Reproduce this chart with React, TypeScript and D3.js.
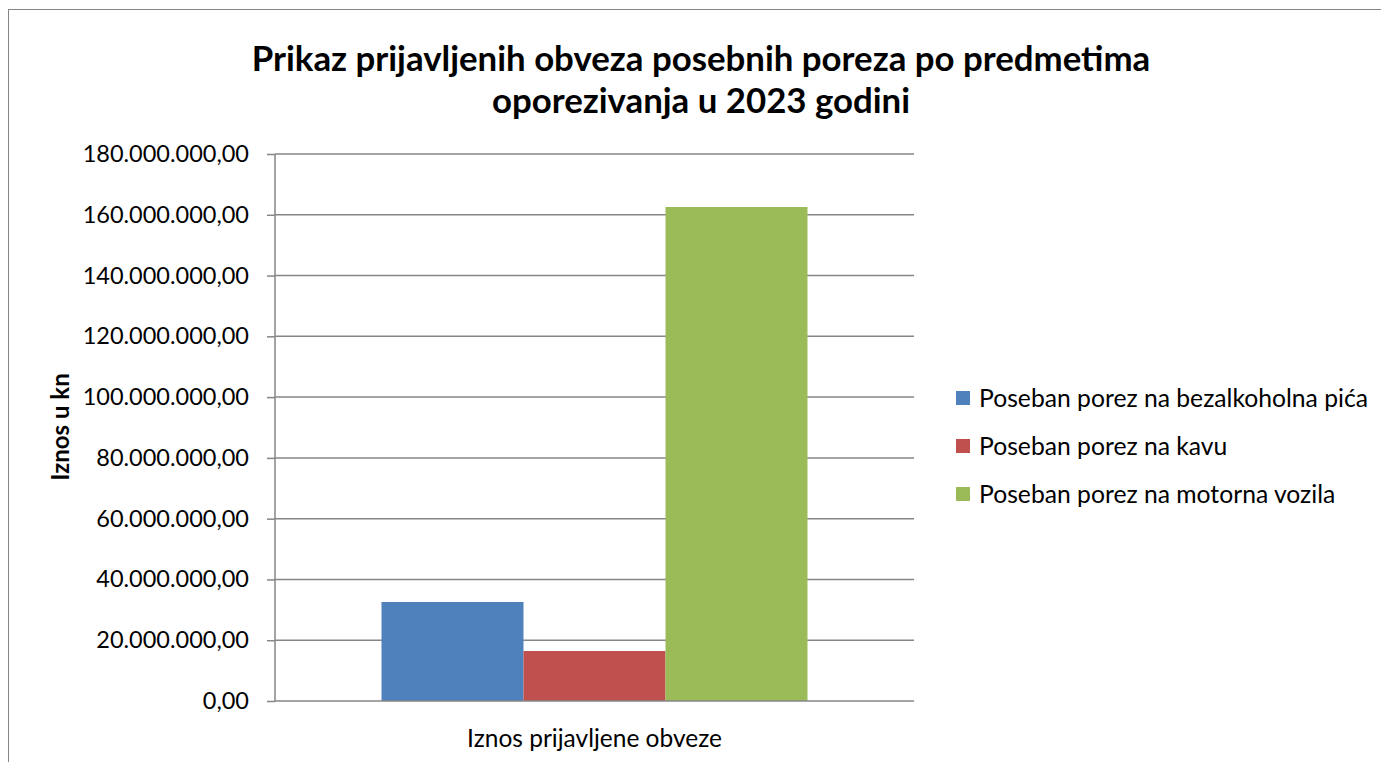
import { useRef, useEffect } from 'react';
import * as d3 from 'd3';

const categories = ['Iznos prijavljene obveze'];
const seriesNames = [
  'Poseban porez na bezalkoholna pića',
  'Poseban porez na kavu',
  'Poseban porez na motorna vozila',
];
const seriesValues = [32580000, 16450000, 162560000];
const seriesColors = ['#4F81BD', '#C0504D', '#9BBB59'];
const yTicks = [0, 20e6, 40e6, 60e6, 80e6, 100e6, 120e6, 140e6, 160e6, 180e6];
const titleLines = [
  'Prikaz prijavljenih obveza posebnih poreza po predmetima',
  'oporezivanja u 2023 godini',
];

const FONT = 'Lato, "Open Sans", sans-serif';

function App() {
  const svgRef = useRef(null);

  useEffect(() => {
    const svg = d3.select(svgRef.current);
    svg.selectAll('*').remove();

    const plot = { left: 275, right: 914, top: 154, bottom: 701 };

    const yScale = d3
      .scaleLinear()
      .domain([0, 180e6])
      .range([plot.bottom, plot.top]);

    const xScale = d3
      .scaleBand()
      .domain(categories)
      .range([plot.left, plot.right])
      .paddingInner(0)
      .paddingOuter(0.25);

    const seriesScale = d3
      .scaleBand()
      .domain(seriesNames)
      .range([0, xScale.bandwidth()])
      .padding(0);

    const locale = d3.formatLocale({
      decimal: ',',
      thousands: '.',
      grouping: [3],
      currency: ['', ' kn'],
    });
    const fmt = locale.format(',.2f');

    // chart border
    svg
      .append('rect')
      .attr('x', 8.5)
      .attr('y', 9.5)
      .attr('width', 1500)
      .attr('height', 900)
      .attr('fill', 'white')
      .attr('stroke', '#868686')
      .attr('stroke-width', 1);

    // gridlines
    svg
      .append('g')
      .selectAll('line')
      .data(yTicks.filter((d) => d > 0))
      .enter()
      .append('line')
      .attr('x1', plot.left)
      .attr('x2', plot.right)
      .attr('y1', (d) => yScale(d))
      .attr('y2', (d) => yScale(d))
      .attr('stroke', '#868686')
      .attr('stroke-width', 1.5);

    // bars
    svg
      .append('g')
      .selectAll('rect')
      .data(seriesNames.map((name, i) => ({ name, value: seriesValues[i], color: seriesColors[i] })))
      .enter()
      .append('rect')
      .attr('x', (d) => xScale(categories[0]) + seriesScale(d.name))
      .attr('y', (d) => yScale(d.value))
      .attr('width', seriesScale.bandwidth())
      .attr('height', (d) => plot.bottom - yScale(d.value))
      .attr('fill', (d) => d.color);

    // y axis
    const yAxis = d3
      .axisLeft(yScale)
      .tickValues(yTicks)
      .tickFormat((d) => fmt(d))
      .tickSize(8)
      .tickPadding(18);

    const yg = svg
      .append('g')
      .attr('transform', `translate(${plot.left}, 0)`)
      .call(yAxis);
    yg.select('.domain').attr('stroke', '#868686').attr('stroke-width', 1.5).attr('d', `M0,${plot.top}V${plot.bottom}`);
    yg.selectAll('.tick line').attr('stroke', '#868686').attr('stroke-width', 1.5);
    yg.selectAll('.tick text')
      .attr('font-family', FONT)
      .attr('font-size', 23.5)
      .attr('fill', '#000');

    // x axis
    svg
      .append('line')
      .attr('x1', plot.left)
      .attr('x2', plot.right)
      .attr('y1', plot.bottom)
      .attr('y2', plot.bottom)
      .attr('stroke', '#868686')
      .attr('stroke-width', 1.5);

    svg
      .append('g')
      .selectAll('text')
      .data(categories)
      .enter()
      .append('text')
      .attr('x', (d) => xScale(d) + xScale.bandwidth() / 2)
      .attr('y', 747)
      .attr('text-anchor', 'middle')
      .attr('font-family', FONT)
      .attr('font-size', 24.5)
      .text((d) => d);

    // title
    svg
      .append('g')
      .selectAll('text')
      .data(titleLines)
      .enter()
      .append('text')
      .attr('x', 701)
      .attr('y', (d, i) => 71 + i * 42)
      .attr('text-anchor', 'middle')
      .attr('font-family', FONT)
      .attr('font-weight', 'bold')
      .attr('font-size', 34.8)
      .text((d) => d);

    // y axis title
    svg
      .append('text')
      .attr('transform', `translate(69, 427) rotate(-90)`)
      .attr('text-anchor', 'middle')
      .attr('font-family', FONT)
      .attr('font-weight', 'bold')
      .attr('font-size', 24)
      .text('Iznos u kn');

    // legend
    const legend = svg
      .append('g')
      .selectAll('g')
      .data(seriesNames)
      .enter()
      .append('g')
      .attr('transform', (d, i) => `translate(956, ${398 + i * 48})`);

    legend
      .append('rect')
      .attr('x', 0)
      .attr('y', -7)
      .attr('width', 14)
      .attr('height', 14)
      .attr('fill', (d, i) => seriesColors[i]);

    legend
      .append('text')
      .attr('x', 23)
      .attr('y', 9)
      .attr('font-family', FONT)
      .attr('font-size', 24.7)
      .text((d) => d);

    return () => {
      svg.selectAll('*').remove();
    };
  }, []);

  return (
    <svg
      ref={svgRef}
      width={1381}
      height={762}
      style={{ position: 'fixed', left: 0, top: 0, background: 'white' }}
    />
  );
}

export default App;
